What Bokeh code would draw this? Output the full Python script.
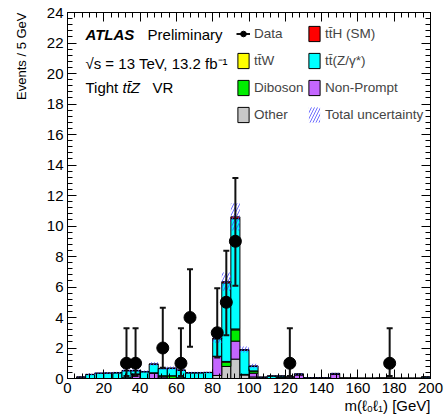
from math import pi
import numpy as np
from bokeh.plotting import figure
from bokeh.models import (ColumnDataSource, Label, Legend, LegendItem, LinearAxis,
                          SingleIntervalTicker, Range1d, Title)
from bokeh.embed import file_html
from bokeh.resources import INLINE

FONT = "Liberation Sans"

# ---- data (5 GeV bins from 0 to 200) ----
bin_edges = list(range(0, 205, 5))

other = [0, 0, 0, 0, 0, 0, 0, 0, 0, 0,
         0, 0, 0, 0, 0, 0, 0.20, 0.79, 1.27, 0.25,
         0.10, 0, 0, 0, 0, 0, 0, 0, 0, 0,
         0, 0, 0, 0, 0, 0, 0, 0, 0, 0]
nonprompt = [0, 0, 0, 0, 0, 0, 0.05, 0.30, 0, 0.37,
             0.10, 0, 0, 0, 0, 0, 1.24, 0, 1.18, 0,
             0.25, 0, 0, 0, 0, 0.25, 0, 0, 0, 0.30,
             0, 0, 0, 0, 0, 0, 0, 0, 0, 0.02]
diboson = [0, 0, 0, 0, 0, 0, 0, 0, 0, 0,
           0.08, 0.18, 0.05, 0, 0, 0, 0, 0.28, 0.74, 0,
           0.15, 0, 0, 0.06, 0, 0, 0, 0, 0, 0,
           0, 0, 0, 0, 0, 0, 0, 0, 0, 0]
ttw = [0, 0, 0, 0, 0, 0, 0, 0, 0, 0,
       0, 0, 0, 0, 0, 0, 0.02, 0.05, 0.06, 0.02,
       0, 0, 0, 0, 0, 0, 0, 0, 0, 0,
       0, 0, 0, 0, 0, 0, 0, 0, 0, 0]
ttz = [0, 0.09, 0.26, 0.34, 0.35, 0.37, 0.46, 0.21, 0.44, 0.57,
       0.47, 0.49, 0.49, 0.37, 0.37, 0.39, 1.14, 5.15, 7.23, 1.59,
       0.30, 0.08, 0.16, 0.10, 0.09, 0.04, 0.05, 0.05, 0.05, 0.03,
       0.03, 0.03, 0.02, 0.02, 0.03, 0.03, 0.02, 0.02, 0.02, 0.08]
tth = [0, 0.01, 0.01, 0.01, 0.01, 0.01, 0.01, 0.01, 0.01, 0.01,
       0.01, 0.01, 0.01, 0.01, 0.01, 0.01, 0.05, 0.08, 0.12, 0.04,
       0.02, 0.01, 0.01, 0.01, 0.01, 0.01, 0, 0, 0, 0,
       0, 0, 0, 0, 0, 0, 0, 0, 0, 0]
total_unc = [0, 0.03, 0.05, 0.06, 0.06, 0.06, 0.08, 0.08, 0.07, 0.12,
             0.10, 0.10, 0.08, 0.06, 0.06, 0.06, 0.30, 0.60, 0.90, 0.20,
             0.15, 0.03, 0.03, 0.03, 0.02, 0.05, 0.01, 0.01, 0.01, 0.05,
             0.01, 0.01, 0.01, 0.01, 0.01, 0.01, 0.01, 0.01, 0.01, 0.02]

data_x = [32.5, 37.5, 52.5, 62.5, 67.5, 82.5, 87.5, 92.5, 122.5, 177.5]
data_y = [1, 1, 2, 1, 4, 3, 5, 9, 1, 1]
data_lo = [0.17, 0.17, 0.71, 0.17, 2.08, 1.37, 2.84, 6.08, 0.17, 0.17]
data_hi = [3.30, 3.30, 4.64, 3.30, 7.16, 5.92, 8.38, 13.15, 3.30, 3.30]

components = [
    ("Other", other, "#c8c8c8"),
    ("Non-Prompt", nonprompt, "#c466ff"),
    ("Diboson", diboson, "#00ee00"),
    ("tt\u0304W", ttw, "#ffff00"),
    ("tt\u0304(Z/\u03b3*)", ttz, "#00ffff"),
    ("tt\u0304H (SM)", tth, "#ff0000"),
]

p = figure(width=444, height=420, output_backend="svg", toolbar_location=None,
           x_range=Range1d(0, 200), y_range=Range1d(0, 24),
           min_border_left=67, min_border_right=14, min_border_top=12,
           min_border_bottom=42)
p.background_fill_color = "white"
p.border_fill_color = "white"
p.outline_line_color = "black"
p.xgrid.visible = False
p.ygrid.visible = False

left = np.array(bin_edges[:-1], dtype=float)
right = np.array(bin_edges[1:], dtype=float)
bottom = np.zeros(len(left))
renderers = {}
for name, vals, col in components:
    top = bottom + np.array(vals)
    src = ColumnDataSource(dict(left=left, right=right, bottom=bottom.copy(), top=top))
    r = p.quad(left="left", right="right", bottom="bottom", top="top", source=src,
               fill_color=col, line_color="black", line_width=1)
    renderers[name] = r
    bottom = top
total = bottom
unc = np.array(total_unc)
usrc = ColumnDataSource(dict(left=left, right=right, bottom=total - unc, top=total + unc))
unc_r = p.quad(left="left", right="right", bottom="bottom", top="top", source=usrc,
               fill_alpha=0, line_color=None, hatch_pattern="/", hatch_color="#4a4aff",
               hatch_alpha=0.8, hatch_scale=6, hatch_weight=1)

dsrc = ColumnDataSource(dict(x=data_x, y=data_y, lo=data_lo, hi=data_hi))
err_r = p.segment(x0="x", y0="lo", x1="x", y1="hi", source=dsrc, line_color="#111111",
                  line_width=2)
p.scatter(x="x", y="lo", source=dsrc, marker="dash", size=6, line_color="#111111", line_width=2)
p.scatter(x="x", y="hi", source=dsrc, marker="dash", size=6, line_color="#111111", line_width=2)
pt_r = p.scatter(x="x", y="y", source=dsrc, marker="circle", size=12, fill_color="black",
                 line_color="black")

# axes
xt = SingleIntervalTicker(interval=20, num_minor_ticks=5)
yt = SingleIntervalTicker(interval=2, num_minor_ticks=5)
p.xaxis.ticker = xt
p.yaxis.ticker = yt
for ax in (p.xaxis[0], p.yaxis[0]):
    ax.major_tick_in = 9
    ax.major_tick_out = 0
    ax.minor_tick_in = 5
    ax.minor_tick_out = 0
    ax.major_tick_line_color = "black"
    ax.minor_tick_line_color = "black"
    ax.major_tick_line_width = 1
    ax.minor_tick_line_width = 1
    ax.axis_line_color = "black"
    ax.major_label_text_font = FONT
    ax.major_label_text_font_size = "15px"
    ax.major_label_text_color = "black"
p.xaxis.major_label_standoff = 4
p.yaxis.major_label_standoff = 4

for loc, tick in (("above", xt), ("right", yt)):
    ax = LinearAxis(ticker=tick, major_label_text_font_size="1px", major_label_standoff=0,
                    major_label_text_color=None,
                    major_tick_in=9, major_tick_out=0, minor_tick_in=5, minor_tick_out=0,
                    major_tick_line_color="black", minor_tick_line_color="black",
                    major_tick_line_width=1, minor_tick_line_width=1,
                    axis_line_color="black")
    p.add_layout(ax, loc)

# axis titles
p.add_layout(Title(text="m(\u2113\u2080\u2113\u2081) [GeV]", align="right", standoff=2,
                   vertical_align="top",
                   text_font=FONT, text_font_size="15px", text_font_style="normal",
                   text_color="black"), "below")
p.add_layout(Title(text="Events / 5 GeV", align="right", vertical_align="top", standoff=26,
                   text_font=FONT, text_font_size="13px", text_font_style="normal",
                   text_color="black"), "left")

# texts inside the frame
def lab(x, y, text, size="15px", style="normal", align="left"):
    p.add_layout(Label(x=x, y=y, text=text, text_font=FONT, text_font_size=size,
                       text_font_style=style, text_align=align, text_baseline="middle",
                       text_color="black"))

lab(9.9, 22.55, "ATLAS", style="bold italic")
lab(44.1, 22.55, "Preliminary")
lab(9.9, 20.65, "\u221as = 13 TeV, 13.2 fb\u207b\u00b9")
lab(9.9, 19.1, "Tight")
lab(30.3, 19.1, "tt\u0304Z", style="italic")
lab(46.8, 19.1, "VR")

# legends
def make_legend(items, x, y):
    lg = Legend(items=items, location=(x, y), padding=0, margin=0, spacing=8,
                glyph_height=19, glyph_width=14, label_height=19, label_standoff=4,
                label_text_font=FONT, label_text_font_size="13.5px",
                label_text_baseline="middle", border_line_color=None,
                background_fill_alpha=0)
    p.add_layout(lg)

make_legend([LegendItem(label="Data", renderers=[err_r, pt_r]),
             LegendItem(label="tt\u0304W", renderers=[renderers["tt\u0304W"]]),
             LegendItem(label="Diboson", renderers=[renderers["Diboson"]]),
             LegendItem(label="Other", renderers=[renderers["Other"]])], 169, 254)
make_legend([LegendItem(label="tt\u0304H (SM)", renderers=[renderers["tt\u0304H (SM)"]]),
             LegendItem(label="tt\u0304(Z/\u03b3*)", renderers=[renderers["tt\u0304(Z/\u03b3*)"]]),
             LegendItem(label="Non-Prompt", renderers=[renderers["Non-Prompt"]]),
             LegendItem(label="Total uncertainty", renderers=[unc_r])], 240, 254)

open("out.html", "w").write(file_html(p, INLINE))
